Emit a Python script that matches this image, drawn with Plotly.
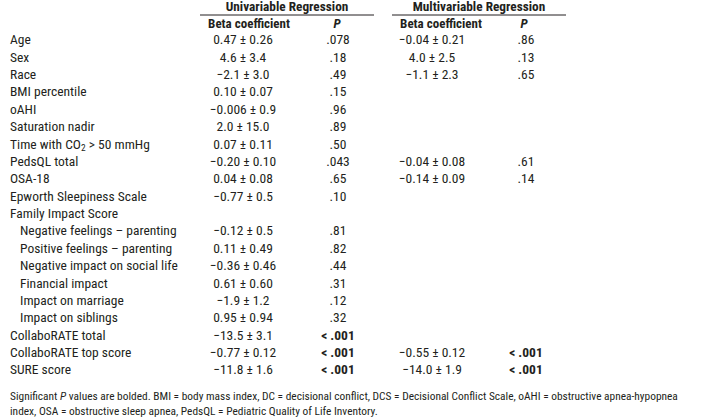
import plotly.graph_objects as go

# ---------------- data ----------------
row_labels = [
    "Age", "Sex", "Race", "BMI percentile", "oAHI", "Saturation nadir",
    "Time with CO<sub>2</sub> &gt; 50 mmHg", "PedsQL total", "OSA-18",
    "Epworth Sleepiness Scale", "Family Impact Score",
    "Negative feelings – parenting", "Positive feelings – parenting",
    "Negative impact on social life", "Financial impact",
    "Impact on marriage", "Impact on siblings",
    "CollaboRATE total", "CollaboRATE top score", "SURE score",
]
row_indent = [0]*11 + [1]*6 + [0]*3

uni_beta = [
    "0.47 ± 0.26", "4.6 ± 3.4", "−2.1 ± 3.0", "0.10 ± 0.07", "−0.006 ± 0.9",
    "2.0 ± 15.0", "0.07 ± 0.11", "−0.20 ± 0.10", "0.04 ± 0.08", "−0.77 ± 0.5",
    "", "−0.12 ± 0.5", "0.11 ± 0.49", "−0.36 ± 0.46", "0.61 ± 0.60",
    "−1.9 ± 1.2", "0.95 ± 0.94", "−13.5 ± 3.1", "−0.77 ± 0.12", "−11.8 ± 1.6",
]
uni_p = [
    ".078", ".18", ".49", ".15", ".96", ".89", ".50", ".043", ".65", ".10",
    "", ".81", ".82", ".44", ".31", ".12", ".32", "< .001", "< .001", "< .001",
]
uni_sig = [False]*17 + [True]*3

multi_beta = [
    "−0.04 ± 0.21", "4.0 ± 2.5", "−1.1 ± 2.3", "", "", "", "",
    "−0.04 ± 0.08", "−0.14 ± 0.09", "", "", "", "", "", "", "", "",
    "", "−0.55 ± 0.12", "−14.0 ± 1.9",
]
multi_p = [
    ".86", ".13", ".65", "", "", "", "", ".61", ".14", "", "", "", "", "",
    "", "", "", "", "< .001", "< .001",
]
multi_sig = [False]*18 + [True]*2

group_headers = ["Univariable Regression", "Multivariable Regression"]
col_headers = ["Beta coefficient", "<i>P</i>", "Beta coefficient", "<i>P</i>"]

footnote_lines = [
    "Significant <i>P</i> values are bolded. BMI = body mass index, DC = decisional conflict, "
    "DCS = Decisional Conflict Scale, oAHI = obstructive apnea-hypopnea",
    "index, OSA = obstructive sleep apnea, PedsQL = Pediatric Quality of Life Inventory.",
]

# ---------------- layout helpers ----------------
FONT = "'Roboto Condensed', 'DejaVu Sans Condensed', 'Liberation Sans', sans-serif"
TXT = "#231f20"
W, H = 704, 420
ROW0, STEP = 41.0, 17.37

def yrow(py):
    return (py - ROW0) / STEP

n = len(row_labels)
rows = list(range(n))

def esc(s):
    return s.replace("<", "&lt;") if s.startswith("<") else s

def bold(vals, flags):
    return [("<b>" + esc(v) + "</b>") if f else esc(v) for v, f in zip(vals, flags)]

X_LABEL, X_INDENT = 10, 20
X_UB, X_UP = 243, 338
X_MB, X_MP = 432, 526

fig = go.Figure()

def text_trace(xs, ys, texts, pos, size=13.5):
    keep = [(x, y, t) for x, y, t in zip(xs, ys, texts) if t]
    fig.add_trace(go.Scatter(
        x=[k[0] for k in keep], y=[k[1] for k in keep], text=[k[2] for k in keep],
        mode="text", textposition=pos,
        textfont=dict(family=FONT, size=size, color=TXT),
        hoverinfo="skip", showlegend=False, cliponaxis=False,
    ))

# row labels
text_trace([X_INDENT if ind else X_LABEL for ind in row_indent], rows,
           row_labels, "middle right")
# univariable
text_trace([X_UB]*n, rows, uni_beta, "middle center")
text_trace([X_UP]*n, rows, bold(uni_p, uni_sig), "middle center")
# multivariable
text_trace([X_MB]*n, rows, multi_beta, "middle center")
text_trace([X_MP]*n, rows, bold(multi_p, multi_sig), "middle center")

# headers
text_trace([287, 479], [yrow(8)]*2, ["<b>" + g + "</b>" for g in group_headers],
           "middle center", size=13.3)
text_trace([249, 337, 441, 524], [yrow(25)]*4, ["<b>" + c + "</b>" for c in col_headers],
           "middle center", size=13)

# footnote
text_trace([X_LABEL]*2, [yrow(397), yrow(412)], footnote_lines, "middle right", size=11.4)

# underlines under group headers
for x0, x1 in [(200, 374), (392, 566)]:
    fig.add_shape(type="line", x0=x0, x1=x1, y0=yrow(15), y1=yrow(15),
                  xref="x", yref="y", line=dict(color=TXT, width=1))

fig.update_layout(
    width=W, height=H,
    margin=dict(l=0, r=0, t=0, b=0),
    paper_bgcolor="white", plot_bgcolor="white",
    xaxis=dict(range=[0, W], visible=False, fixedrange=True),
    yaxis=dict(range=[yrow(H), yrow(0)], visible=False, fixedrange=True),
    showlegend=False,
)

fig.write_html("out.html", config={"displayModeBar": False},
               post_script="document.body.style.margin='0px';document.body.style.overflow='hidden';")
